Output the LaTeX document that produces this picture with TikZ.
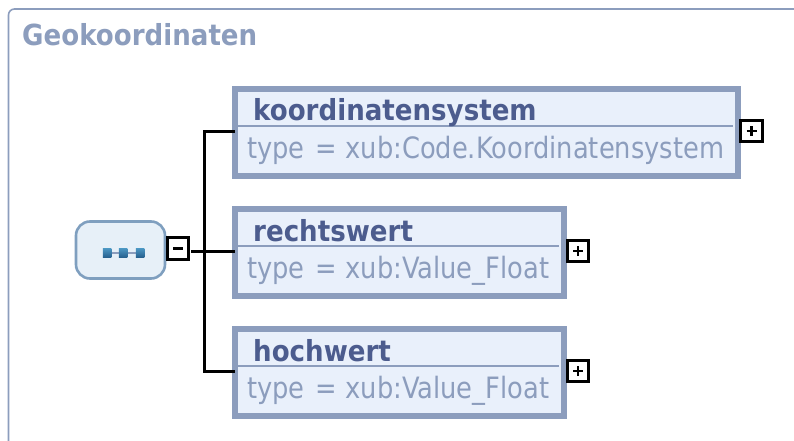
\documentclass[tikz,border=0pt]{standalone}
\usepackage{fontspec}
\setmainfont[FakeStretch=0.9]{DejaVu Sans}
\newfontfamily\typefont[FakeStretch=0.875]{DejaVu Sans}
\definecolor{frameblue}{HTML}{8C9DBD}
\definecolor{boxfill}{HTML}{E9F0FB}
\definecolor{namecol}{HTML}{4C5C8E}
\definecolor{typecol}{HTML}{8C9DBD}
\definecolor{seqfill}{HTML}{E7F0F8}
\definecolor{seqline}{HTML}{7F9FBF}
\definecolor{icontop}{HTML}{4A94C0}
\definecolor{iconbot}{HTML}{27608F}
\tikzset{
 x=1pt,y=-1pt,
 elembox/.style={draw=frameblue,fill=boxfill,line width=5.8pt,minimum height=87.5pt,anchor=north west,inner sep=0pt,outer sep=0pt},
 namelabel/.style={text=namecol,font=\fontsize{29}{31}\selectfont\bfseries,anchor=base west,inner sep=0pt},
 typelabel/.style={text=typecol,font=\typefont\fontsize{29.4}{31}\selectfont,anchor=base west,inner sep=0pt},
 rulebar/.style={draw=frameblue,line width=2.5pt},
 togglebox/.style={draw=black,fill=white,line width=3.2pt,minimum size=21.5pt,inner sep=0pt,outer sep=0pt},
 togglesign/.style={line width=2.8pt,black},
 conn/.style={line width=3pt,black},
 iconsq/.style={top color=icontop,bottom color=iconbot,draw=none,minimum size=8.5pt,inner sep=0pt}
}
\begin{document}
\begin{tikzpicture}
\useasboundingbox (0,0) rectangle (794,441);
\draw[frameblue,line width=1.6pt,rounded corners=6pt] (8.5,441) -- (8.5,9) -- (794,9);
\node[text=frameblue,font=\fontsize{29}{31}\selectfont\bfseries,anchor=base west,inner sep=0pt] (title) at (22,45.5) {Geokoordinaten};

\node[draw=seqline,fill=seqfill,line width=2.6pt,rounded corners=14pt,minimum width=89pt,minimum height=57pt,inner sep=0pt,outer sep=0pt] (seq) at (120.5,250) {};
\draw[frameblue,line width=2.5pt] (107,253) -- (140,253);
\node[iconsq] (i1) at (107,253) {};
\node[iconsq] (i2) at (123,253) {};
\node[iconsq] (i3) at (140,253) {};

\node[togglebox] (minus) at (178,248.5) {};
\draw[togglesign] (173,248.5) -- (183,248.5);

\node[elembox,minimum width=503pt] (k) at (234.75,88.75) {};
\node[elembox,minimum width=329.5pt] (r) at (234.75,208.75) {};
\node[elembox,minimum width=329.5pt] (h) at (234.75,328.75) {};

\draw[rulebar] (237,126) -- (733,126);
\draw[rulebar] (237,246) -- (559,246);
\draw[rulebar] (237,366) -- (559,366);

\node[namelabel] (kn) at (253,121) {koordinatensystem};
\node[typelabel] (kt) at (247,158) {type\hspace{3pt} = xub:Code.Koordinatensystem};
\node[namelabel] (rn) at (253,241) {rechtswert};
\node[typelabel] (rt) at (247,278) {type\hspace{3pt} = xub:Value\_Float};
\node[namelabel] (hn) at (253,361) {hochwert};
\node[typelabel] (ht) at (247,398) {type\hspace{3pt} = xub:Value\_Float};

\node[togglebox] (pk) at (751.5,131) {};
\node[togglebox] (pr) at (578,251) {};
\node[togglebox] (ph) at (578,371) {};
\foreach \p in {pk,pr,ph}{
 \draw[togglesign] ([xshift=-5pt]\p.center) -- ([xshift=5pt]\p.center);
 \draw[togglesign] ([yshift=-5pt]\p.center) -- ([yshift=5pt]\p.center);
}

\coordinate (gapstart) at (191,251.4);
\coordinate (trunk) at (204,251.4);
\draw[conn] (gapstart) -- (trunk);
\draw[conn] (trunk) -- (r.west|-trunk);
\draw[conn] (trunk) |- ([yshift=1pt]k.west);
\draw[conn] (trunk) |- ([yshift=1pt]h.west);
\end{tikzpicture}
\end{document}
